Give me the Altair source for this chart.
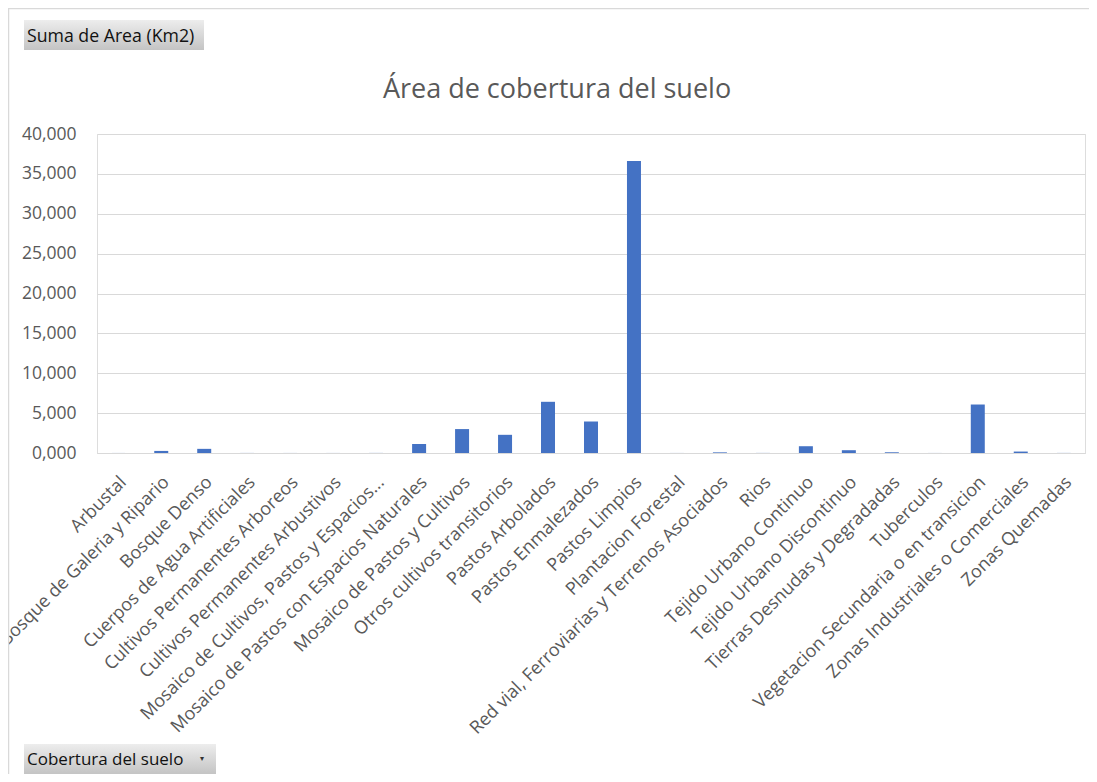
import altair as alt
import pandas as pd

categories = [
    "Arbustal",
    "Bosque de Galeria y Ripario",
    "Bosque Denso",
    "Cuerpos de Agua Artificiales",
    "Cultivos Permanentes Arboreos",
    "Cultivos Permanentes Arbustivos",
    "Mosaico de Cultivos, Pastos y Espacios...",
    "Mosaico de Pastos con Espacios Naturales",
    "Mosaico de Pastos y Cultivos",
    "Otros cultivos transitorios",
    "Pastos Arbolados",
    "Pastos Enmalezados",
    "Pastos Limpios",
    "Plantacion Forestal",
    "Red vial, Ferroviarias y Terrenos Asociados",
    "Rios",
    "Tejido Urbano Continuo",
    "Tejido Urbano Discontinuo",
    "Tierras Desnudas y Degradadas",
    "Tuberculos",
    "Vegetacion Secundaria o en transicion",
    "Zonas Industriales o Comerciales",
    "Zonas Quemadas",
]
areas = [
    5, 260, 520, 8, 5, 5, 10, 1130, 3000, 2280, 6420, 3950, 36600,
    5, 80, 10, 850, 350, 90, 5, 6080, 180, 10,
]
y_ticks = [0, 5000, 10000, 15000, 20000, 25000, 30000, 35000, 40000]

title_text = "Área de cobertura del suelo"
value_button = "Suma de Area (Km2)"
axis_button = "Cobertura del suelo"

FONT = "Open Sans"
GRAY = "#595959"
W, H = 988, 319

df = pd.DataFrame({"cat": categories, "area": areas})

bars = alt.Chart(df).mark_bar(size=14, color="#4472C4").encode(
    x=alt.X(
        "cat:N",
        sort=None,
        title=None,
        scale=alt.Scale(paddingInner=0.67, paddingOuter=0.33),
        axis=alt.Axis(
            labelAngle=-45,
            labelAlign="right",
            labelBaseline="top",
            labelFontSize=18,
            labelColor=GRAY,
            labelFont=FONT,
            labelPadding=20,
            labelOffset=-1,
            labelLimit=0,
            ticks=False,
            domain=True,
            domainColor="#D9D9D9",
            labelOverlap=False,
        ),
    ),
    y=alt.Y(
        "area:Q",
        title=None,
        scale=alt.Scale(domain=[0, 40000], nice=False),
        axis=alt.Axis(
            values=y_ticks,
            labelExpr="datum.value == 0 ? '0,000' : format(datum.value, ',')",
            labelFontSize=17.5,
            labelColor=GRAY,
            labelFont=FONT,
            labelPadding=21,
            ticks=False,
            domain=False,
            grid=True,
            gridColor="#D9D9D9",
            gridWidth=1,
        ),
    ),
)

base = alt.Chart(pd.DataFrame({"k": [0]}))

# chart border (top and left)
border_top = base.mark_rule(color="#D9D9D9", clip=False, strokeWidth=1.5).encode(
    x=alt.value(-89), x2=alt.value(W + 20), y=alt.value(-125.5)
)
border_left = base.mark_rule(color="#D9D9D9", clip=False, strokeWidth=1.5).encode(
    x=alt.value(-88.5), y=alt.value(-126), y2=alt.value(H + 330)
)

title_mark = base.mark_text(
    text=title_text, font=FONT, fontSize=27, color=GRAY, align="center", baseline="alphabetic", clip=False
).encode(x=alt.value(460), y=alt.value(-36))

grad = alt.Gradient(
    gradient="linear",
    stops=[alt.GradientStop(color="#EDEDED", offset=0), alt.GradientStop(color="#C4C4C4", offset=1)],
    x1=0, x2=0, y1=0, y2=1,
)

btn1 = base.mark_rect(color=grad, clip=False).encode(
    x=alt.value(-73), x2=alt.value(107), y=alt.value(-114), y2=alt.value(-84)
)
btn1_text = base.mark_text(
    text=value_button, font=FONT, fontSize=17.7, color="#111111", align="left", baseline="alphabetic", clip=False
).encode(x=alt.value(-70), y=alt.value(-92))

btn2 = base.mark_rect(color=grad, clip=False).encode(
    x=alt.value(-73), x2=alt.value(119), y=alt.value(610), y2=alt.value(640)
)
btn2_text = base.mark_text(
    text=axis_button, font=FONT, fontSize=17, color="#111111", align="left", baseline="alphabetic", clip=False
).encode(x=alt.value(-70), y=alt.value(631))
btn2_arrow = base.mark_text(
    text="▾", font=FONT, fontSize=8, color="#333333", align="center", baseline="middle", clip=False
).encode(x=alt.value(105), y=alt.value(625))

chart = alt.layer(
    border_top, border_left, bars, title_mark, btn1, btn1_text, btn2, btn2_text, btn2_arrow
).properties(
    width=W,
    height=H,
    padding={"left": 89, "top": 126, "right": 4, "bottom": 321},
    autosize=alt.AutoSizeParams(type="none"),
).configure_view(stroke=None).configure(background="white")

chart.save("out.html", embed_options={"renderer": "svg", "actions": False})
